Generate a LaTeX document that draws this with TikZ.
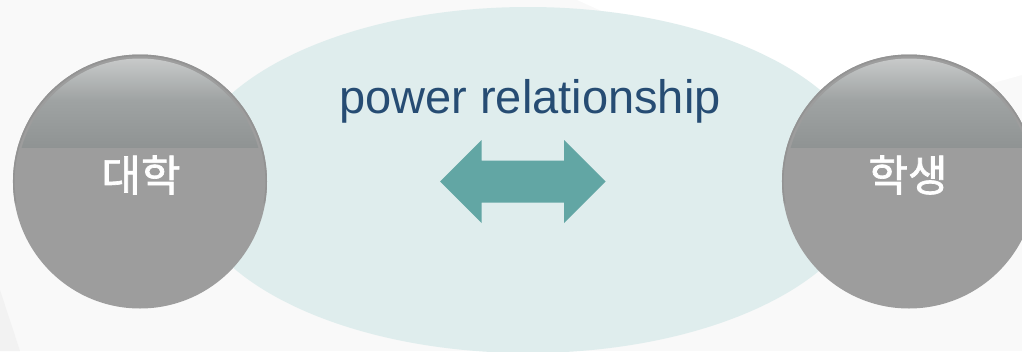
\documentclass[tikz,border=0pt]{standalone}
\usepackage{fontspec}
\setmainfont{Liberation Sans}
\newfontfamily\kofont[BoldFont=*, BoldFeatures={FakeBold=1.6}]{Noto Sans CJK KR}
\definecolor{bgray}{HTML}{F9F9F9}
\definecolor{bcorner}{HTML}{F2F2F2}
\definecolor{ovalfill}{HTML}{DFEDED}
\definecolor{arrowteal}{HTML}{62A6A4}
\definecolor{titleblue}{HTML}{264C73}
\definecolor{ballgray}{HTML}{9D9D9D}
\definecolor{ballrim}{HTML}{939393}
\definecolor{glosstop}{HTML}{CDCFCF}
\definecolor{glossmid}{HTML}{9FA3A3}
\definecolor{glossbot}{HTML}{8F9393}
\tikzset{
  ball/.style={circle, minimum size=254pt, inner sep=0pt, fill=ballgray},
  rim/.style={draw=ballrim, line width=1.6pt},
  balltext/.style={text=white, font=\kofont\bfseries\fontsize{43}{43}\selectfont},
  title/.style={text=titleblue, font=\fontsize{47}{47}\selectfont, inner sep=0pt},
}
% glossy cap on the upper part of a sphere, plus its darker upper rim
% (the y axis points down, so angles 180..360 lie on the upper half)
\newcommand{\gloss}[1]{%
  \begin{scope}
    \clip (#1) circle (123);
    \shade[top color=glosstop, bottom color=glossbot, middle color=glossmid]
      ($(#1)+(-130,-129)$) rectangle ($(#1)+(130,-34)$);
  \end{scope}
  \draw[rim] ($(#1)+(170:126.2)$) arc[start angle=170, end angle=370, radius=126.2];}
\usetikzlibrary{calc}
\begin{document}
\begin{tikzpicture}[x=1pt, y=-1pt]
  \useasboundingbox (0,0) rectangle (1022,351);
  % backdrop
  \fill[bgray] (0,0) rectangle (1022,351);
  \fill[white] (577,0) -- (1022,0) -- (1022,75) -- (850,123) -- cycle;
  \fill[bcorner] (0,290) -- (20,351) -- (0,351) -- cycle;
  % central oval
  \fill[ovalfill] (528,180) ellipse [x radius=342, y radius=173];
  % two-headed arrow
  \coordinate (tipL) at (440,181.5);
  \coordinate (tipR) at (605.5,181.5);
  \fill[arrowteal] (tipL) -- (481.5,140) -- (481.5,160.5) -- (564,160.5) -- (564,140)
    -- (tipR) -- (564,223) -- (564,202.5) -- (481.5,202.5) -- (481.5,223) -- cycle;
  \node[title, anchor=base] (rel) at (530,113) {power relationship};
  % spheres
  \node[ball] (univ) at (140,181.5) {};
  \gloss{univ.center}
  \node[ball] (stud) at (909,181.5) {};
  \gloss{stud.center}
  \node[balltext] (univtext) at (141,175) {대학};
  \node[balltext] (studtext) at (908,175) {학생};
\end{tikzpicture}
\end{document}
